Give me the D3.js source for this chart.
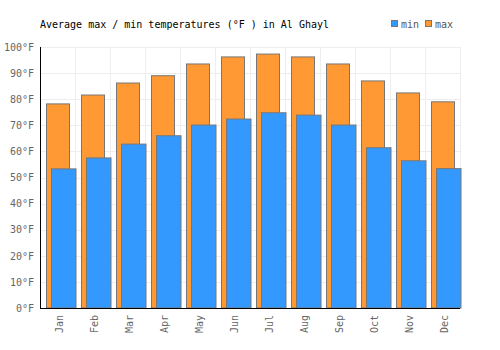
<!DOCTYPE html>
<html>
<head>
<meta charset="utf-8">
<script src="https://cdn.jsdelivr.net/npm/d3@7"></script>
<style>
  body { margin: 0; background: #fff; }
  svg { font-family: "DejaVu Sans Mono", monospace; }
</style>
</head>
<body>
<div id="viz"></div>
<script>
const months = ['Jan', 'Feb', 'Mar', 'Apr', 'May', 'Jun', 'Jul', 'Aug', 'Sep', 'Oct', 'Nov', 'Dec'];
const maxTemps = [78.2, 81.6, 86.2, 89.0, 93.5, 96.2, 97.3, 96.2, 93.5, 87.0, 82.4, 79.0];
const minTemps = [53.3, 57.5, 62.8, 66.0, 70.1, 72.4, 74.8, 73.9, 70.1, 61.4, 56.4, 53.4];
const yTicks = [0, 10, 20, 30, 40, 50, 60, 70, 80, 90, 100];

const width = 500, height = 350;
const margin = { top: 47, right: 40, bottom: 42, left: 40 };

const svg = d3.select('#viz').append('svg')
  .attr('width', width)
  .attr('height', height);

const xScale = d3.scaleBand()
  .domain(months)
  .range([margin.left, width - margin.right])
  .padding(0);

const yScale = d3.scaleLinear()
  .domain([0, 100])
  .range([height - margin.bottom, margin.top]);

const bw = xScale.bandwidth();

// grid
svg.append('g')
  .selectAll('line')
  .data(yTicks)
  .enter().append('line')
  .attr('x1', margin.left)
  .attr('x2', width - margin.right)
  .attr('y1', d => Math.round(yScale(d)) + 0.5)
  .attr('y2', d => Math.round(yScale(d)) + 0.5)
  .style('stroke', '#eeeeee')
  .style('stroke-width', 1);

svg.append('g')
  .selectAll('line')
  .data(months.concat(['end']))
  .enter().append('line')
  .attr('x1', (d, i) => margin.left + i * bw + 0.5)
  .attr('x2', (d, i) => margin.left + i * bw + 0.5)
  .attr('y1', margin.top)
  .attr('y2', height - margin.bottom)
  .style('stroke', '#eeeeee')
  .style('stroke-width', 1);

// max bars
svg.append('g')
  .selectAll('rect')
  .data(maxTemps)
  .enter().append('rect')
  .attr('x', (d, i) => xScale(months[i]) + 6.5)
  .attr('y', d => yScale(d))
  .attr('width', 23)
  .attr('height', d => yScale(0) - yScale(d))
  .style('fill', '#ff9933')
  .style('stroke', '#777777')
  .style('stroke-width', 1);

// min bars
svg.append('g')
  .selectAll('rect')
  .data(minTemps)
  .enter().append('rect')
  .attr('x', (d, i) => xScale(months[i]) + 11.5)
  .attr('y', d => yScale(d))
  .attr('width', 24.5)
  .attr('height', d => yScale(0) - yScale(d))
  .style('fill', '#3399ff')
  .style('stroke', '#777777')
  .style('stroke-width', 1);

// axes
const yAxis = svg.append('g')
  .attr('transform', `translate(${margin.left}, 0)`)
  .call(d3.axisLeft(yScale).tickValues(yTicks).tickSize(0).tickPadding(6).tickFormat(d => d + '°F'));
yAxis.select('.domain').remove();
yAxis.selectAll('text')
  .style('font-size', '10px')
  .style('font-family', '"DejaVu Sans Mono", monospace')
  .style('fill', '#666666');

const xAxis = svg.append('g')
  .attr('transform', `translate(0, ${height - margin.bottom})`)
  .call(d3.axisBottom(xScale).tickSize(0).tickPadding(0));
xAxis.select('.domain').remove();
xAxis.selectAll('text')
  .attr('transform', 'rotate(-90)')
  .attr('x', -7)
  .attr('y', 0)
  .attr('dy', '0.35em')
  .style('text-anchor', 'end')
  .style('font-size', '10px')
  .style('font-family', '"DejaVu Sans Mono", monospace')
  .style('fill', '#666666');
xAxis.selectAll('.tick').attr('transform', d => `translate(${xScale(d) + bw / 2 + 1.5}, 0)`);

svg.append('line')
  .attr('x1', margin.left + 0.5).attr('x2', margin.left + 0.5)
  .attr('y1', margin.top).attr('y2', height - margin.bottom + 0.5)
  .style('stroke', '#000').style('stroke-width', 1);
svg.append('line')
  .attr('x1', margin.left).attr('x2', width - margin.right)
  .attr('y1', height - margin.bottom + 0.5).attr('y2', height - margin.bottom + 0.5)
  .style('stroke', '#000').style('stroke-width', 1);

// title
svg.append('text')
  .attr('x', 40)
  .attr('y', 28)
  .text('Average max / min temperatures (°F ) in Al Ghayl')
  .style('font-size', '10px')
  .style('fill', '#000');

// legend
const legendData = [{ name: 'min', color: '#3399ff' }, { name: 'max', color: '#ff9933' }];
const legendItem = svg.append('g')
  .selectAll('g')
  .data(legendData)
  .enter().append('g')
  .attr('transform', (d, i) => `translate(${391.5 + i * 34}, 20.5)`);
legendItem.append('rect')
  .attr('width', 6)
  .attr('height', 6)
  .style('fill', d => d.color)
  .style('stroke', '#777777')
  .style('stroke-width', 1);
legendItem.append('text')
  .attr('x', 9.5)
  .attr('y', 7.5)
  .text(d => d.name)
  .style('font-size', '10px')
  .style('fill', '#555555');
</script>
</body>
</html>
